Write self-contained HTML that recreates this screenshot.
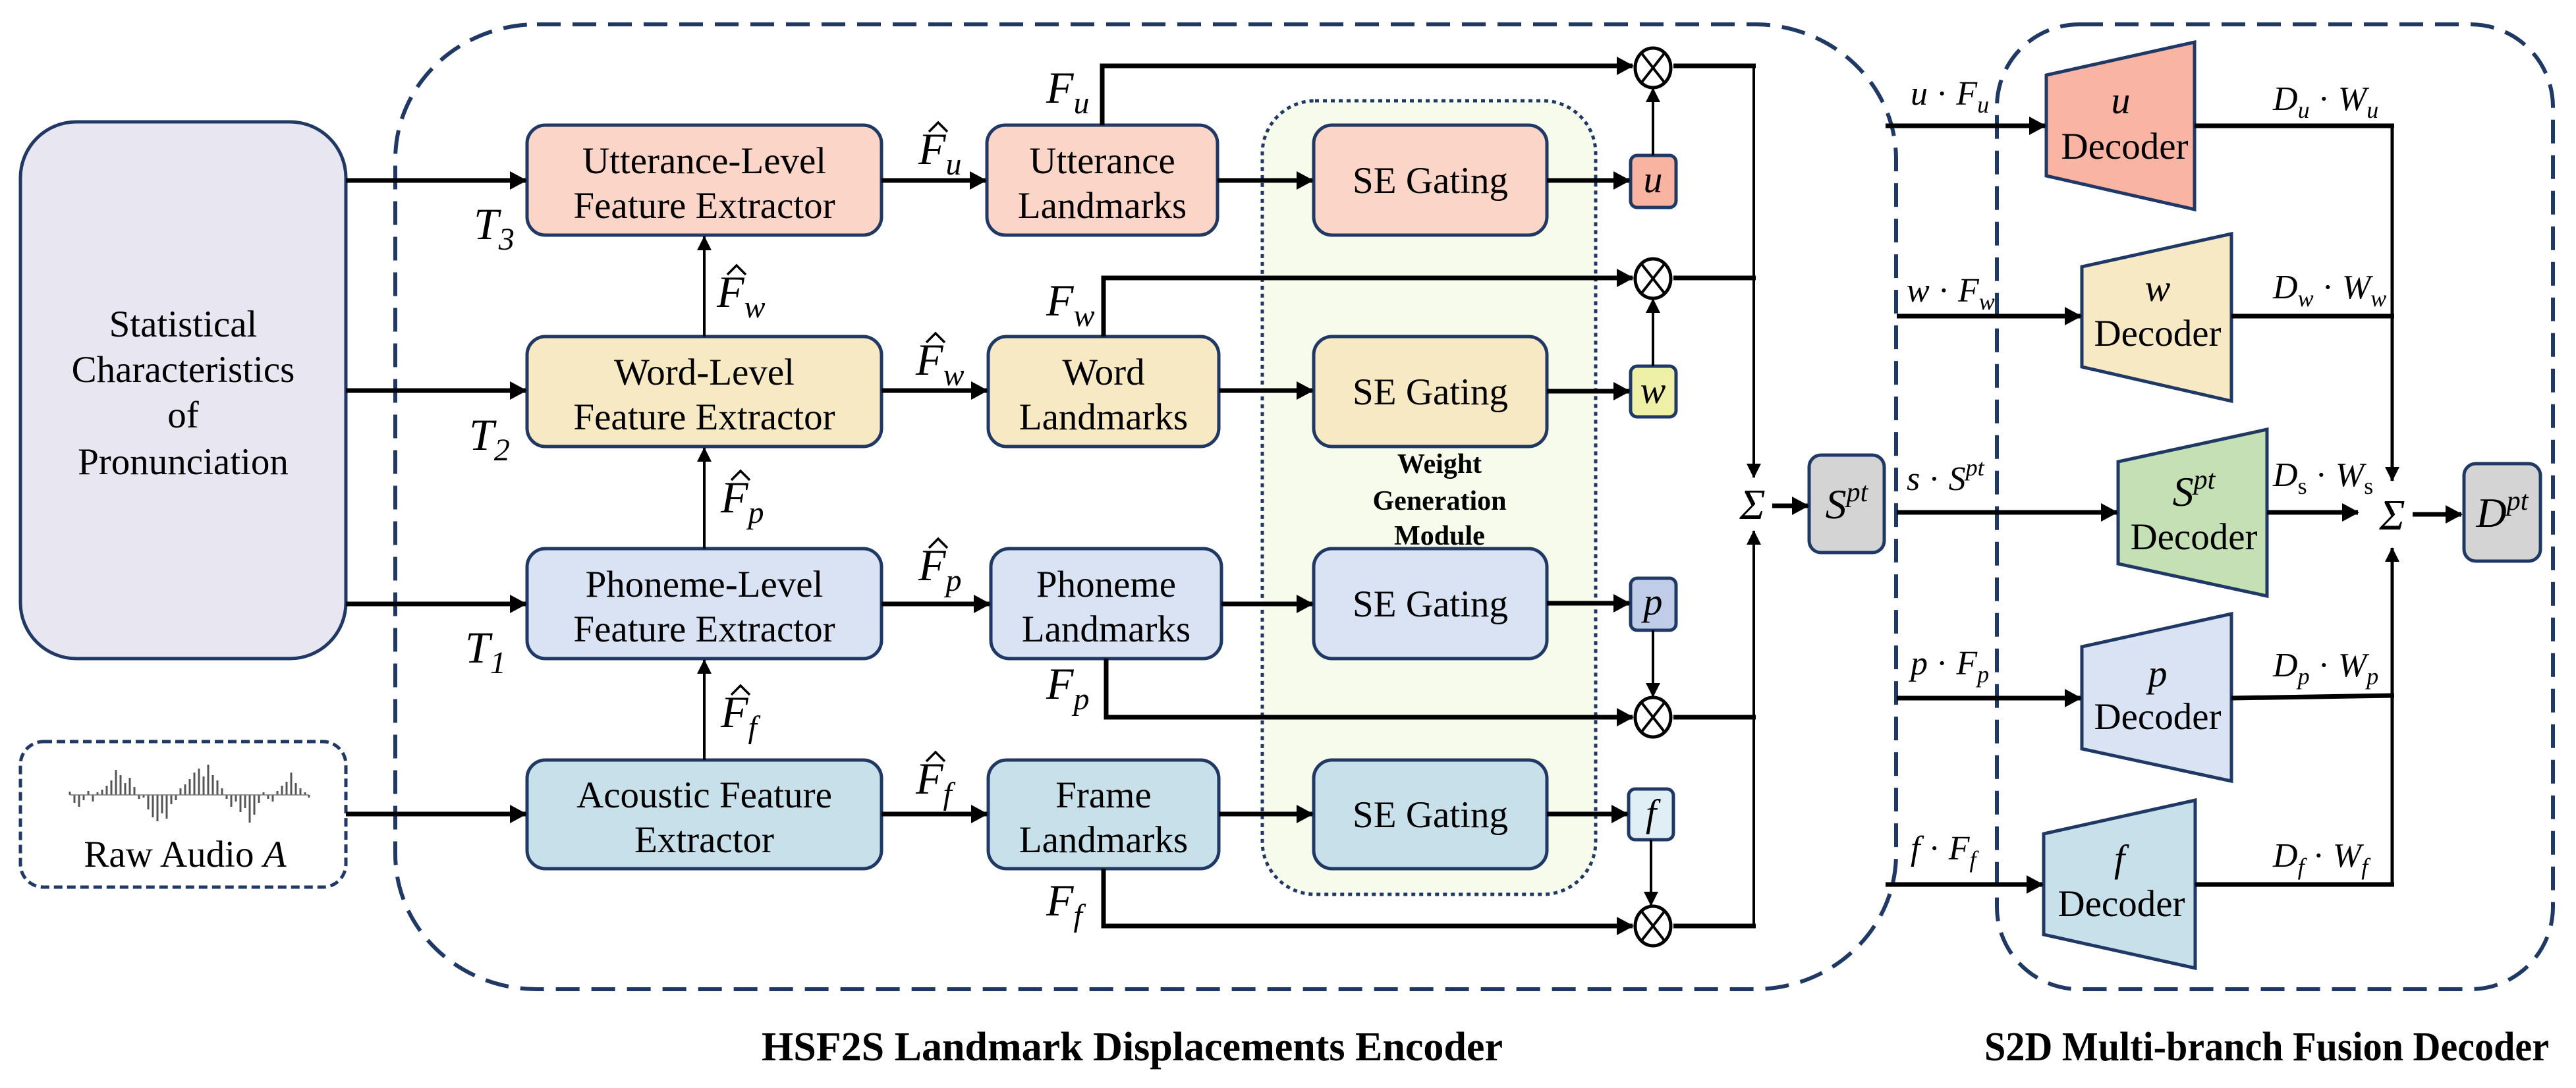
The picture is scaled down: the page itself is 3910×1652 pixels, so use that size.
<!DOCTYPE html>
<html><head><meta charset="utf-8"><style>
html,body{margin:0;padding:0;background:#fff;}
svg{display:block;}
text{font-family:"Liberation Serif",serif;fill:#000;}
.it{font-style:italic;}
.n{font-style:normal;}
</style></head><body>
<svg width="3910" height="1652" viewBox="0 0 3910 1652" xmlns="http://www.w3.org/2000/svg">
<defs>
<marker id="a" markerUnits="userSpaceOnUse" markerWidth="26" markerHeight="28" refX="24" refY="14" orient="auto"><path d="M0,0 L26,14 L0,28 z" fill="#000"/></marker>
<marker id="b" markerUnits="userSpaceOnUse" markerWidth="22" markerHeight="22" refX="21" refY="11" orient="auto"><path d="M0,0 L22,11 L0,22 z" fill="#000"/></marker>
</defs>
<rect width="3910" height="1652" fill="#fff"/>

<!-- dashed containers -->
<rect x="600" y="37" width="2278" height="1465" rx="215" ry="205" fill="none" stroke="#1f3864" stroke-width="6" stroke-dasharray="36 18"/>
<rect x="3031" y="37" width="844" height="1465" rx="125" ry="125" fill="none" stroke="#1f3864" stroke-width="6" stroke-dasharray="36 18"/>

<!-- weight module -->
<rect x="1916" y="153" width="506" height="1205" rx="80" fill="#f7fbeb" stroke="#1f3864" stroke-width="5" stroke-dasharray="6 6"/>
<text x="2185" y="718" font-size="42" font-weight="bold" text-anchor="middle">Weight</text>
<text x="2185" y="774" font-size="42" font-weight="bold" text-anchor="middle">Generation</text>
<text x="2185" y="827" font-size="42" font-weight="bold" text-anchor="middle">Module</text>

<!-- statistical box -->
<rect x="31" y="185" width="494" height="815" rx="85" fill="#e8e6f0" stroke="#1f3864" stroke-width="5"/>
<g font-size="57" text-anchor="middle">
<text x="278" y="511">Statistical</text>
<text x="278" y="580">Characteristics</text>
<text x="278" y="649">of</text>
<text x="278" y="720">Pronunciation</text>
</g>

<!-- raw audio -->
<rect x="31" y="1126" width="494" height="221" rx="35" fill="#fff" stroke="#1f3864" stroke-width="5" stroke-dasharray="13 7"/>
<path stroke="#555" stroke-width="3" d="M106,1207v-5M113,1207v12M120,1207v18M127,1207v8M134,1207v-6M141,1207v10M148,1207v-4M155,1207v-8M162,1207v-14M169,1207v-22M176,1207v-38M183,1207v-30M190,1207v-18M197,1207v-26M204,1207v-12M211,1207v6M218,1207v4M225,1207v22M232,1207v34M239,1207v40M246,1207v28M253,1207v36M260,1207v14M267,1207v8M274,1207v-10M281,1207v-16M288,1207v-24M295,1207v-34M302,1207v-40M309,1207v-28M316,1207v-46M323,1207v-30M330,1207v-22M337,1207v-10M344,1207v6M351,1207v18M358,1207v10M365,1207v26M372,1207v20M379,1207v42M386,1207v30M393,1207v12M400,1207v-4M407,1207v6M414,1207v10M421,1207v-6M428,1207v-14M435,1207v-20M442,1207v-34M449,1207v-18M456,1207v-10M463,1207v-4M469,1207v4"/>
<path d="M106,1207H469" stroke="#777" stroke-width="1.5"/>
<text x="281" y="1316" font-size="57" text-anchor="middle">Raw Audio <tspan class="it">A</tspan></text>

<!-- extractor boxes -->
<g stroke="#1f3864" stroke-width="5">
<rect x="800" y="190" width="538" height="167" rx="28" fill="#fcd5c9"/>
<rect x="800" y="511" width="538" height="167" rx="28" fill="#f8e9c5"/>
<rect x="800" y="833" width="538" height="167" rx="28" fill="#dae3f3"/>
<rect x="800" y="1154" width="538" height="165" rx="28" fill="#c8e0ea"/>
<rect x="1498" y="190" width="350" height="167" rx="28" fill="#fcd5c9"/>
<rect x="1500" y="511" width="350" height="167" rx="28" fill="#f8e9c5"/>
<rect x="1504" y="833" width="350" height="167" rx="28" fill="#dae3f3"/>
<rect x="1500" y="1154" width="350" height="165" rx="28" fill="#c8e0ea"/>
<rect x="1994" y="190" width="354" height="167" rx="28" fill="#fcd5c9"/>
<rect x="1994" y="511" width="354" height="167" rx="28" fill="#f8e9c5"/>
<rect x="1994" y="833" width="354" height="167" rx="28" fill="#dae3f3"/>
<rect x="1994" y="1154" width="354" height="165" rx="28" fill="#c8e0ea"/>
<rect x="2475" y="236" width="69" height="79" rx="10" fill="#f8b4a0"/>
<rect x="2475" y="556" width="69" height="77" rx="10" fill="#eef0a8"/>
<rect x="2475" y="878" width="69" height="79" rx="10" fill="#c0cde8"/>
<rect x="2472" y="1198" width="68" height="77" rx="10" fill="#e0eef5"/>
<rect x="2746" y="691" width="114" height="148" rx="18" fill="#d4d4d4"/>
<rect x="3740" y="704" width="116" height="148" rx="18" fill="#d4d4d4"/>
<polygon points="3106,267 3106,114 3331,64 3331,318" fill="#f9b4a3"/>
<polygon points="3160,557 3160,405 3387,355 3387,609" fill="#f8e9c5"/>
<polygon points="3215,856 3215,701 3441,652 3441,905" fill="#c5e0b4"/>
<polygon points="3160,1137 3160,982 3387,932 3387,1186" fill="#dae3f3"/>
<polygon points="3102,1419 3102,1266 3332,1215 3332,1470" fill="#c8e0ea"/>
</g>

<g font-size="57" text-anchor="middle">
<text x="1069" y="263">Utterance-Level</text><text x="1069" y="331">Feature Extractor</text>
<text x="1069" y="584">Word-Level</text><text x="1069" y="652">Feature Extractor</text>
<text x="1069" y="906">Phoneme-Level</text><text x="1069" y="974">Feature Extractor</text>
<text x="1069" y="1226">Acoustic Feature</text><text x="1069" y="1294">Extractor</text>
<text x="1673" y="263">Utterance</text><text x="1673" y="331">Landmarks</text>
<text x="1675" y="584">Word</text><text x="1675" y="652">Landmarks</text>
<text x="1679" y="906">Phoneme</text><text x="1679" y="974">Landmarks</text>
<text x="1675" y="1226">Frame</text><text x="1675" y="1294">Landmarks</text>
<text x="2171" y="293">SE Gating</text>
<text x="2171" y="614">SE Gating</text>
<text x="2171" y="936">SE Gating</text>
<text x="2171" y="1256">SE Gating</text>
<text x="3225" y="241">Decoder</text>
<text x="3275" y="525">Decoder</text>
<text x="3330" y="834">Decoder</text>
<text x="3275" y="1107">Decoder</text>
<text x="3220" y="1391">Decoder</text>
</g>
<g font-size="58" text-anchor="middle" class="it">
<text x="2509" y="292" class="it">u</text>
<text x="2509" y="612" class="it">w</text>
<text x="2509" y="933" class="it">p</text>
<text x="2506" y="1254" class="it">f</text>
<text x="3219" y="172" class="it">u</text>
<text x="3275" y="457" class="it">w</text>
<text x="3275" y="1042" class="it">p</text>
<text x="3217" y="1323" class="it">f</text>
</g>
<text x="3330" y="768" font-size="64" text-anchor="middle" class="it">S<tspan font-size="42" dy="-26">pt</tspan></text>
<text x="2803" y="787" font-size="64" text-anchor="middle" class="it">S<tspan font-size="42" dy="-26">pt</tspan></text>
<text x="3798" y="800" font-size="64" text-anchor="middle" class="it">D<tspan font-size="42" dy="-26">pt</tspan></text>

<!-- thick connectors -->
<g stroke="#000" stroke-width="7" fill="none">
<path d="M525,274H798" marker-end="url(#a)"/>
<path d="M525,593H798" marker-end="url(#a)"/>
<path d="M525,917H798" marker-end="url(#a)"/>
<path d="M525,1236H798" marker-end="url(#a)"/>
<path d="M1338,274H1496" marker-end="url(#a)"/>
<path d="M1338,593H1498" marker-end="url(#a)"/>
<path d="M1338,917H1502" marker-end="url(#a)"/>
<path d="M1338,1236H1498" marker-end="url(#a)"/>
<path d="M1848,274H1992" marker-end="url(#a)"/>
<path d="M1850,593H1992" marker-end="url(#a)"/>
<path d="M1854,917H1992" marker-end="url(#a)"/>
<path d="M1850,1236H1992" marker-end="url(#a)"/>
<path d="M2348,274H2473" marker-end="url(#a)"/>
<path d="M2348,594H2473" marker-end="url(#a)"/>
<path d="M2348,916H2473" marker-end="url(#a)"/>
<path d="M2348,1236H2470" marker-end="url(#a)"/>
<path d="M1673,190V100H2478" marker-end="url(#a)"/>
<path d="M1675,511V422H2478" marker-end="url(#a)"/>
<path d="M1679,1000V1089H2478" marker-end="url(#a)"/>
<path d="M1675,1319V1406H2478" marker-end="url(#a)"/>
<path d="M2540,100H2665"/>
<path d="M2540,422H2665"/>
<path d="M2540,1089H2665"/>
<path d="M2540,1406H2665"/>
<path d="M2690,768H2744" marker-end="url(#a)"/>
<path d="M2862,191H3104" marker-end="url(#a)"/>
<path d="M2879,480H3158" marker-end="url(#a)"/>
<path d="M2879,778H3213" marker-end="url(#a)"/>
<path d="M2879,1060H3158" marker-end="url(#a)"/>
<path d="M2862,1343H3100" marker-end="url(#a)"/>
<path d="M3331,191H3634"/>
<path d="M3387,480H3634"/>
<path d="M3441,778H3579" marker-end="url(#a)"/>
<path d="M3387,1060L3634,1056"/>
<path d="M3332,1343H3634"/>
<path d="M3662,781H3736" marker-end="url(#a)"/>
</g>
<!-- thin connectors -->
<g stroke="#000" stroke-width="4" fill="none">
<path d="M1069,511V359" marker-end="url(#b)"/>
<path d="M1069,833V680" marker-end="url(#b)"/>
<path d="M1069,1154V1002" marker-end="url(#b)"/>
<path d="M2509,236V134" marker-end="url(#b)"/>
<path d="M2509,556V454" marker-end="url(#b)"/>
<path d="M2509,957V1058" marker-end="url(#b)"/>
<path d="M2506,1275V1375" marker-end="url(#b)"/>
<path d="M2662,100V725" marker-end="url(#b)"/>
<path d="M2662,1406V806" marker-end="url(#b)"/>
<path d="M3631,191V730" stroke-width="5" marker-end="url(#b)"/>
<path d="M3631,1343V832" stroke-width="5" marker-end="url(#b)"/>
</g>
<!-- otimes -->
<g stroke="#000" stroke-width="5" fill="#fff">
<ellipse cx="2509" cy="103" rx="27" ry="30"/>
<ellipse cx="2509" cy="423" rx="27" ry="30"/>
<ellipse cx="2509" cy="1089" rx="27" ry="30"/>
<ellipse cx="2509" cy="1406" rx="27" ry="30"/>
</g>
<g stroke="#000" stroke-width="4">
<path d="M2491,80L2527,126M2527,80L2491,126"/>
<path d="M2491,400L2527,446M2527,400L2491,446"/>
<path d="M2491,1066L2527,1112M2527,1066L2491,1112"/>
<path d="M2491,1383L2527,1429M2527,1383L2491,1429"/>
</g>
<text x="2660" y="788" font-size="66" text-anchor="middle" class="it">Σ</text>
<text x="3631" y="804" font-size="66" text-anchor="middle" class="it">Σ</text>

<!-- math labels -->
<g font-size="68" class="it">
<text x="719" y="363" class="it">T<tspan dy="16" font-size="48">3</tspan></text>
<text x="712" y="683" class="it">T<tspan dy="16" font-size="48">2</tspan></text>
<text x="706" y="1006" class="it">T<tspan dy="16" font-size="48">1</tspan></text>
<text x="1588" y="156" class="it">F<tspan dy="16" font-size="48">u</tspan></text>
<text x="1588" y="479" class="it">F<tspan dy="16" font-size="48">w</tspan></text>
<text x="1588" y="1061" class="it">F<tspan dy="16" font-size="48">p</tspan></text>
<text x="1588" y="1390" class="it">F<tspan dy="16" font-size="48">f</tspan></text>
<text x="1394" y="249" class="it">F<tspan dy="16" font-size="48">u</tspan></text>
<text x="1390" y="569" class="it">F<tspan dy="16" font-size="48">w</tspan></text>
<text x="1394" y="881" class="it">F<tspan dy="16" font-size="48">p</tspan></text>
<text x="1390" y="1205" class="it">F<tspan dy="16" font-size="48">f</tspan></text>
<text x="1088" y="466" class="it">F<tspan dy="16" font-size="48">w</tspan></text>
<text x="1094" y="778" class="it">F<tspan dy="16" font-size="48">p</tspan></text>
<text x="1094" y="1104" class="it">F<tspan dy="16" font-size="48">f</tspan></text>
</g>
<g stroke="#000" stroke-width="3.5" fill="none">
<path d="M1410,200L1424,186L1438,200"/>
<path d="M1406,520L1420,506L1434,520"/>
<path d="M1410,832L1424,818L1438,832"/>
<path d="M1406,1156L1420,1142L1434,1156"/>
<path d="M1104,417L1118,403L1132,417"/>
<path d="M1110,729L1124,715L1138,729"/>
<path d="M1110,1055L1124,1041L1138,1055"/>
</g>

<g font-size="52" class="it">
<text x="2900" y="159" class="it">u<tspan class="n"> · </tspan>F<tspan dy="12" font-size="36">u</tspan></text>
<text x="2894" y="458" class="it">w<tspan class="n"> · </tspan>F<tspan dy="12" font-size="36">w</tspan></text>
<text x="2894" y="744" class="it">s<tspan class="n"> · </tspan>S<tspan dy="-22" font-size="36">pt</tspan></text>
<text x="2900" y="1024" class="it">p<tspan class="n"> · </tspan>F<tspan dy="12" font-size="36">p</tspan></text>
<text x="2900" y="1305" class="it">f<tspan class="n"> · </tspan>F<tspan dy="12" font-size="36">f</tspan></text>
<text x="3450" y="167" class="it">D<tspan dy="12" font-size="36">u</tspan><tspan dy="-12" class="n"> · </tspan>W<tspan dy="12" font-size="36">u</tspan></text>
<text x="3450" y="453" class="it">D<tspan dy="12" font-size="36">w</tspan><tspan dy="-12" class="n"> · </tspan>W<tspan dy="12" font-size="36">w</tspan></text>
<text x="3450" y="738" class="it">D<tspan dy="12" font-size="36" class="n">s</tspan><tspan dy="-12" class="n"> · </tspan>W<tspan dy="12" font-size="36" class="n">s</tspan></text>
<text x="3450" y="1027" class="it">D<tspan dy="12" font-size="36">p</tspan><tspan dy="-12" class="n"> · </tspan>W<tspan dy="12" font-size="36">p</tspan></text>
<text x="3450" y="1316" class="it">D<tspan dy="12" font-size="36">f</tspan><tspan dy="-12" class="n"> · </tspan>W<tspan dy="12" font-size="36">f</tspan></text>
</g>

<!-- titles -->
<text x="1156" y="1610" font-size="62" font-weight="bold" textLength="1125" lengthAdjust="spacingAndGlyphs">HSF2S Landmark Displacements Encoder</text>
<text x="3012" y="1610" font-size="62" font-weight="bold" textLength="857" lengthAdjust="spacingAndGlyphs">S2D Multi-branch Fusion Decoder</text>
</svg>
</body></html>
